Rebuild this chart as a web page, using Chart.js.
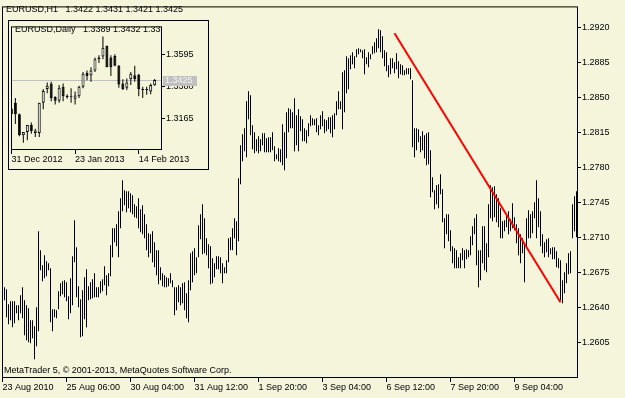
<!DOCTYPE html>
<html>
<head>
<meta charset="utf-8">
<script src="https://cdn.jsdelivr.net/npm/chart.js@4.4.1/dist/chart.umd.min.js"></script>
<style>
  html, body { margin: 0; padding: 0; background: #f5f5dc; }
  #wrap { position: relative; width: 625px; height: 398px; overflow: hidden; }
  #main { position: absolute; left: 0; top: 0; }
  #inset { position: absolute; left: 8px; top: 20px; }
</style>
</head>
<body>
<div id="wrap">
  <canvas id="main" width="625" height="398"></canvas>
  <canvas id="inset" width="201" height="150"></canvas>
</div>
<script>
// H1 bars, high / low, oldest first
const barHigh = [
  1.2660,1.2658,1.2643,1.2646,1.2646,1.2646,1.2642,1.2642,1.2652,1.2660,
  1.2647,1.2642,1.2639,1.2627,1.2627,1.2621,1.2640,1.2716,1.2697,1.2682,
  1.2692,1.2686,1.2684,1.2679,1.2638,1.2638,1.2637,1.2656,1.2664,1.2666,
  1.2667,1.2665,1.2651,1.2669,1.2691,1.2727,1.2700,1.2661,1.2648,1.2657,
  1.2670,1.2678,1.2661,1.2665,1.2668,1.2674,1.2660,1.2660,1.2666,1.2668,
  1.2681,1.2672,1.2674,1.2702,1.2719,1.2719,1.2723,1.2736,1.2749,1.2767,
  1.2757,1.2756,1.2756,1.2754,1.2752,1.2743,1.2741,1.2749,1.2738,1.2742,
  1.2733,1.2723,1.2714,1.2713,1.2716,1.2705,1.2697,1.2697,1.2680,1.2674,
  1.2672,1.2670,1.2669,1.2674,1.2667,1.2660,1.2660,1.2662,1.2660,1.2664,
  1.2665,1.2654,1.2667,1.2694,1.2696,1.2699,1.2690,1.2722,1.2733,1.2743,
  1.2729,1.2709,1.2703,1.2701,1.2689,1.2684,1.2691,1.2691,1.2690,1.2684,
  1.2680,1.2687,1.2709,1.2710,1.2719,1.2729,1.2726,1.2769,1.2802,1.2813,
  1.2819,1.2846,1.2856,1.2852,1.2822,1.2815,1.2808,1.2811,1.2808,1.2814,
  1.2814,1.2809,1.2810,1.2810,1.2815,1.2801,1.2793,1.2799,1.2798,1.2823,
  1.2815,1.2835,1.2839,1.2838,1.2835,1.2849,1.2832,1.2838,1.2831,1.2828,
  1.2819,1.2817,1.2824,1.2832,1.2829,1.2828,1.2829,1.2822,1.2832,1.2836,
  1.2828,1.2827,1.2830,1.2830,1.2832,1.2834,1.2846,1.2856,1.2846,1.2875,
  1.2877,1.2891,1.2889,1.2892,1.2895,1.2891,1.2898,1.2899,1.2898,1.2897,
  1.2898,1.2890,1.2895,1.2893,1.2901,1.2905,1.2909,1.2918,1.2917,1.2911,
  1.2897,1.2895,1.2882,1.2889,1.2889,1.2885,1.2894,1.2886,1.2883,1.2882,
  1.2877,1.2879,1.2879,1.2879,1.2867,1.2819,1.2819,1.2818,1.2811,1.2816,
  1.2812,1.2814,1.2815,1.2797,1.2770,1.2757,1.2762,1.2763,1.2773,1.2758,
  1.2729,1.2733,1.2733,1.2717,1.2701,1.2699,1.2697,1.2690,1.2694,1.2699,
  1.2697,1.2698,1.2697,1.2711,1.2721,1.2729,1.2733,1.2697,1.2697,1.2721,
  1.2721,1.2704,1.2743,1.2762,1.2760,1.2761,1.2753,1.2749,1.2739,1.2726,
  1.2727,1.2733,1.2736,1.2728,1.2744,1.2730,1.2723,1.2719,1.2713,1.2709,
  1.2703,1.2729,1.2737,1.2733,1.2736,1.2745,1.2767,1.2749,1.2736,1.2713,
  1.2705,1.2708,1.2709,1.2699,1.2700,1.2700,1.2696,1.2689,1.2687,1.2667,
  1.2675,1.2684,1.2694,1.2696,1.2743,1.2751,1.2756
];
const barLow = [
  1.2647,1.2630,1.2623,1.2627,1.2620,1.2624,1.2634,1.2627,1.2634,1.2629,
  1.2612,1.2607,1.2605,1.2604,1.2609,1.2588,1.2601,1.2616,1.2677,1.2666,
  1.2669,1.2671,1.2677,1.2625,1.2616,1.2630,1.2629,1.2638,1.2651,1.2653,
  1.2650,1.2646,1.2628,1.2634,1.2642,1.2685,1.2650,1.2640,1.2610,1.2611,
  1.2628,1.2620,1.2647,1.2648,1.2649,1.2650,1.2650,1.2650,1.2654,1.2656,
  1.2662,1.2652,1.2661,1.2671,1.2690,1.2705,1.2701,1.2690,1.2719,1.2736,
  1.2742,1.2735,1.2739,1.2735,1.2733,1.2730,1.2729,1.2719,1.2715,1.2713,
  1.2709,1.2697,1.2690,1.2694,1.2685,1.2680,1.2672,1.2663,1.2667,1.2661,
  1.2660,1.2660,1.2661,1.2664,1.2660,1.2632,1.2637,1.2645,1.2642,1.2644,
  1.2637,1.2629,1.2625,1.2657,1.2665,1.2672,1.2674,1.2690,1.2708,1.2693,
  1.2694,1.2692,1.2679,1.2663,1.2664,1.2670,1.2678,1.2678,1.2674,1.2664,
  1.2674,1.2674,1.2685,1.2697,1.2697,1.2709,1.2692,1.2706,1.2763,1.2786,
  1.2796,1.2790,1.2828,1.2812,1.2798,1.2794,1.2796,1.2794,1.2796,1.2802,
  1.2795,1.2795,1.2795,1.2795,1.2797,1.2786,1.2788,1.2786,1.2785,1.2782,
  1.2777,1.2789,1.2815,1.2819,1.2819,1.2796,1.2802,1.2796,1.2816,1.2806,
  1.2806,1.2804,1.2811,1.2821,1.2822,1.2822,1.2815,1.2812,1.2818,1.2821,
  1.2814,1.2816,1.2818,1.2814,1.2810,1.2818,1.2832,1.2838,1.2838,1.2818,
  1.2835,1.2854,1.2858,1.2878,1.2883,1.2879,1.2890,1.2893,1.2895,1.2889,
  1.2873,1.2883,1.2880,1.2888,1.2893,1.2894,1.2895,1.2899,1.2895,1.2889,
  1.2881,1.2876,1.2870,1.2873,1.2879,1.2874,1.2878,1.2869,1.2873,1.2872,
  1.2872,1.2873,1.2873,1.2868,1.2800,1.2790,1.2797,1.2805,1.2795,1.2797,
  1.2789,1.2782,1.2783,1.2750,1.2755,1.2738,1.2743,1.2739,1.2753,1.2725,
  1.2699,1.2713,1.2706,1.2696,1.2684,1.2679,1.2679,1.2679,1.2679,1.2687,
  1.2679,1.2688,1.2690,1.2692,1.2702,1.2713,1.2682,1.2660,1.2667,1.2684,
  1.2677,1.2675,1.2690,1.2729,1.2726,1.2730,1.2725,1.2720,1.2709,1.2709,
  1.2716,1.2720,1.2713,1.2716,1.2719,1.2717,1.2704,1.2692,1.2684,1.2694,
  1.2665,1.2700,1.2709,1.2709,1.2714,1.2729,1.2709,1.2720,1.2701,1.2694,
  1.2690,1.2695,1.2690,1.2693,1.2688,1.2688,1.2680,1.2679,1.2647,1.2644,
  1.2654,1.2664,1.2673,1.2674,1.2709,1.2716,1.2710
];
// time axis: bar index of each label
const timeTickIdx = [-1, 31, 63, 95, 127, 159, 191, 223, 255];
const timeTickLabels = ['23 Aug 2010', '25 Aug 06:00', '30 Aug 04:00', '31 Aug 12:00',
  '1 Sep 20:00', '3 Sep 04:00', '6 Sep 12:00', '7 Sep 20:00', '9 Sep 04:00'];
const priceTicks = [1.2605, 1.2640, 1.2675, 1.2710, 1.2745, 1.2780, 1.2815, 1.2850, 1.2885, 1.2920];
// red trend line (bar index, price)
const trendIdx = [195, 278];
const trendPrice = [1.2914, 1.2645];

// daily inset, 31 Dec 2012 .. 20 Feb 2013
const dayOpen  = [1.3230,1.3269,1.3191,1.3048,1.3070,1.3119,1.3064,1.3064,1.3269,1.3363,
                  1.3401,1.3308,1.3284,1.3379,1.3317,1.3313,1.3297,1.3313,1.3379,1.3474,
                  1.3456,1.3489,1.3566,1.3584,1.3655,1.3577,1.3588,1.3522,1.3401,1.3372,
                  1.3430,1.3456,1.3460,1.3363,1.3357,1.3346,1.3389];
const dayHigh  = [1.3240,1.3302,1.3196,1.3070,1.3119,1.3136,1.3092,1.3269,1.3363,1.3408,
                  1.3412,1.3313,1.3390,1.3401,1.3328,1.3368,1.3346,1.3386,1.3478,1.3489,
                  1.3511,1.3577,1.3593,1.3721,1.3659,1.3593,1.3599,1.3527,1.3430,1.3434,
                  1.3478,1.3522,1.3467,1.3379,1.3379,1.3401,1.3432];
const dayLow   = [1.3185,1.3125,1.3042,1.2997,1.3015,1.3059,1.3037,1.3037,1.3225,1.3335,
                  1.3280,1.3258,1.3269,1.3280,1.3297,1.3269,1.3258,1.3302,1.3368,1.3423,
                  1.3412,1.3478,1.3540,1.3566,1.3511,1.3452,1.3518,1.3372,1.3357,1.3357,
                  1.3390,1.3412,1.3313,1.3302,1.3324,1.3328,1.3386];
const dayClose = [1.3191,1.3191,1.3048,1.3070,1.3119,1.3077,1.3081,1.3269,1.3350,1.3386,
                  1.3302,1.3284,1.3372,1.3313,1.3308,1.3308,1.3319,1.3379,1.3467,1.3452,
                  1.3489,1.3566,1.3577,1.3644,1.3511,1.3511,1.3522,1.3394,1.3363,1.3408,
                  1.3467,1.3430,1.3363,1.3357,1.3363,1.3390,1.3425];
const dayTickIdx = [0, 16, 32];
const dayTickLabels = ['31 Dec 2012', '23 Jan 2013', '14 Feb 2013'];
const dayPriceTicks = [1.3165, 1.3380, 1.3595];
const lastPrice = 1.3425;

const FONT = '"Liberation Sans", Arial, sans-serif';
Chart.defaults.font.family = FONT;
Chart.defaults.font.size = 9;
Chart.defaults.color = '#000';

// black frame round the plot area plus the text overlays
const framePlugin = {
  id: 'frame',
  afterDraw(chart, args, opts) {
    const { ctx, chartArea: a } = chart;
    ctx.save();
    ctx.strokeStyle = '#000';
    ctx.lineWidth = 1;
    if (opts.outer) ctx.strokeRect(0.5, 0.5, chart.width - 1, chart.height - 1);
    ctx.strokeRect(a.left + 0.5, a.top + 0.5, a.right - a.left, a.bottom - a.top);
    ctx.font = '9px ' + FONT;
    ctx.fillStyle = '#000';
    ctx.textBaseline = 'middle';
    (opts.texts || []).forEach(t => {
      ctx.save();
      if (t.clip) {
        ctx.beginPath();
        ctx.rect(a.left, a.top, a.right - a.left, a.bottom - a.top);
        ctx.clip();
      }
      ctx.fillText(t.text, t.x, t.y);
      ctx.restore();
    });
    ctx.restore();
  }
};

// grey line + box for the current price on the inset
const lastPricePlugin = {
  id: 'lastPrice',
  beforeDatasetsDraw(chart) {
    const { ctx, chartArea: a } = chart;
    const y = Math.round(chart.scales.y.getPixelForValue(lastPrice)) + 0.5;
    ctx.save();
    ctx.strokeStyle = '#c0c0c0';
    ctx.beginPath();
    ctx.moveTo(a.left, y);
    ctx.lineTo(a.right, y);
    ctx.stroke();
    ctx.restore();
  },
  afterDraw(chart) {
    const { ctx, chartArea: a } = chart;
    const y = Math.round(chart.scales.y.getPixelForValue(lastPrice));
    ctx.save();
    ctx.fillStyle = '#c0c0c0';
    ctx.fillRect(a.right + 2, y - 4, 34, 10);
    ctx.fillStyle = '#f4f4f4';
    ctx.font = '9px ' + FONT;
    ctx.textBaseline = 'middle';
    ctx.fillText(lastPrice.toFixed(4), a.right + 4, y + 1);
    ctx.restore();
  }
};

function timeAxis(min, max, idx, labels) {
  return {
    type: 'linear',
    min: min,
    max: max,
    offset: false,
    border: { display: false },
    grid: { offset: false, drawOnChartArea: false, drawTicks: true, tickLength: 5, tickColor: '#000' },
    ticks: {
      align: 'start',
      padding: 0,
      maxRotation: 0,
      autoSkip: false,
      callback: (v, i) => labels[i]
    },
    afterBuildTicks: s => { s.ticks = idx.map(v => ({ value: v })); },
    afterFit: s => { s.height = 21; }
  };
}

function priceAxis(min, max, ticks) {
  return {
    type: 'linear',
    position: 'right',
    min: min,
    max: max,
    border: { display: false },
    grid: { drawOnChartArea: false, drawTicks: true, tickLength: 4, tickColor: '#000' },
    ticks: { padding: 1, autoSkip: false, callback: v => v.toFixed(4) },
    afterBuildTicks: s => { s.ticks = ticks.map(v => ({ value: v })); },
    afterFit: s => { s.width = 48; }
  };
}

const mainChart = new Chart(document.getElementById('main'), {
  type: 'bar',
  data: {
    datasets: [
      {
        type: 'line',
        data: trendIdx.map((v, i) => ({ x: v, y: trendPrice[i] })),
        borderColor: '#ff0000',
        borderWidth: 2,
        pointRadius: 0,
        order: 0
      },
      {
        data: barHigh.map((h, i) => ({ x: i, y: [barLow[i], h] })),
        backgroundColor: '#000',
        borderWidth: 0,
        barThickness: 1,
        inflateAmount: 0,
        order: 1
      }
    ]
  },
  options: {
    responsive: false,
    animation: false,
    devicePixelRatio: 1,
    layout: { padding: { left: 2, top: 3, right: 0, bottom: 0 } },
    plugins: {
      legend: { display: false },
      tooltip: { enabled: false },
      frame: {
        texts: [
          { text: 'EURUSD,H1   1.3422 1.3431 1.3421 1.3425', x: 6, y: 10 },
          { text: 'MetaTrader 5, \u00a9 2001-2013, MetaQuotes Software Corp.', x: 4, y: 371 }
        ]
      }
    },
    scales: {
      x: timeAxis(-1.25, 286.25, timeTickIdx, timeTickLabels),
      y: priceAxis(1.25703, 1.29408, priceTicks)
    }
  },
  plugins: [framePlugin]
});

const insetChart = new Chart(document.getElementById('inset'), {
  type: 'bar',
  data: {
    datasets: [
      {
        data: dayHigh.map((h, i) => ({ x: i, y: [dayLow[i], h] })),
        backgroundColor: '#000',
        borderWidth: 0,
        barThickness: 1,
        inflateAmount: 0,
        grouped: false,
        order: 2
      },
      {
        data: dayOpen.map((o, i) => ({ x: i, y: [Math.min(o, dayClose[i]), Math.max(o, dayClose[i])] })),
        backgroundColor: dayOpen.map((o, i) => dayClose[i] >= o ? '#ffffff' : '#000000'),
        borderColor: '#000',
        borderWidth: 1,
        borderSkipped: false,
        barThickness: 3,
        inflateAmount: 0,
        grouped: false,
        order: 1
      }
    ]
  },
  options: {
    responsive: false,
    animation: false,
    devicePixelRatio: 1,
    layout: { padding: { left: 3, top: 3, right: 0, bottom: 0 } },
    plugins: {
      legend: { display: false },
      tooltip: { enabled: false },
      frame: {
        outer: true,
        texts: [
          { text: 'EURUSD,Daily   1.3389 1.3432 1.3386 1.3425', x: 7, y: 10, clip: true }
        ]
      }
    },
    scales: {
      x: timeAxis(-0.1, 37.59, dayTickIdx, dayTickLabels),
      y: priceAxis(1.2955, 1.3789, dayPriceTicks)
    }
  },
  plugins: [framePlugin, lastPricePlugin]
});
</script>
</body>
</html>
